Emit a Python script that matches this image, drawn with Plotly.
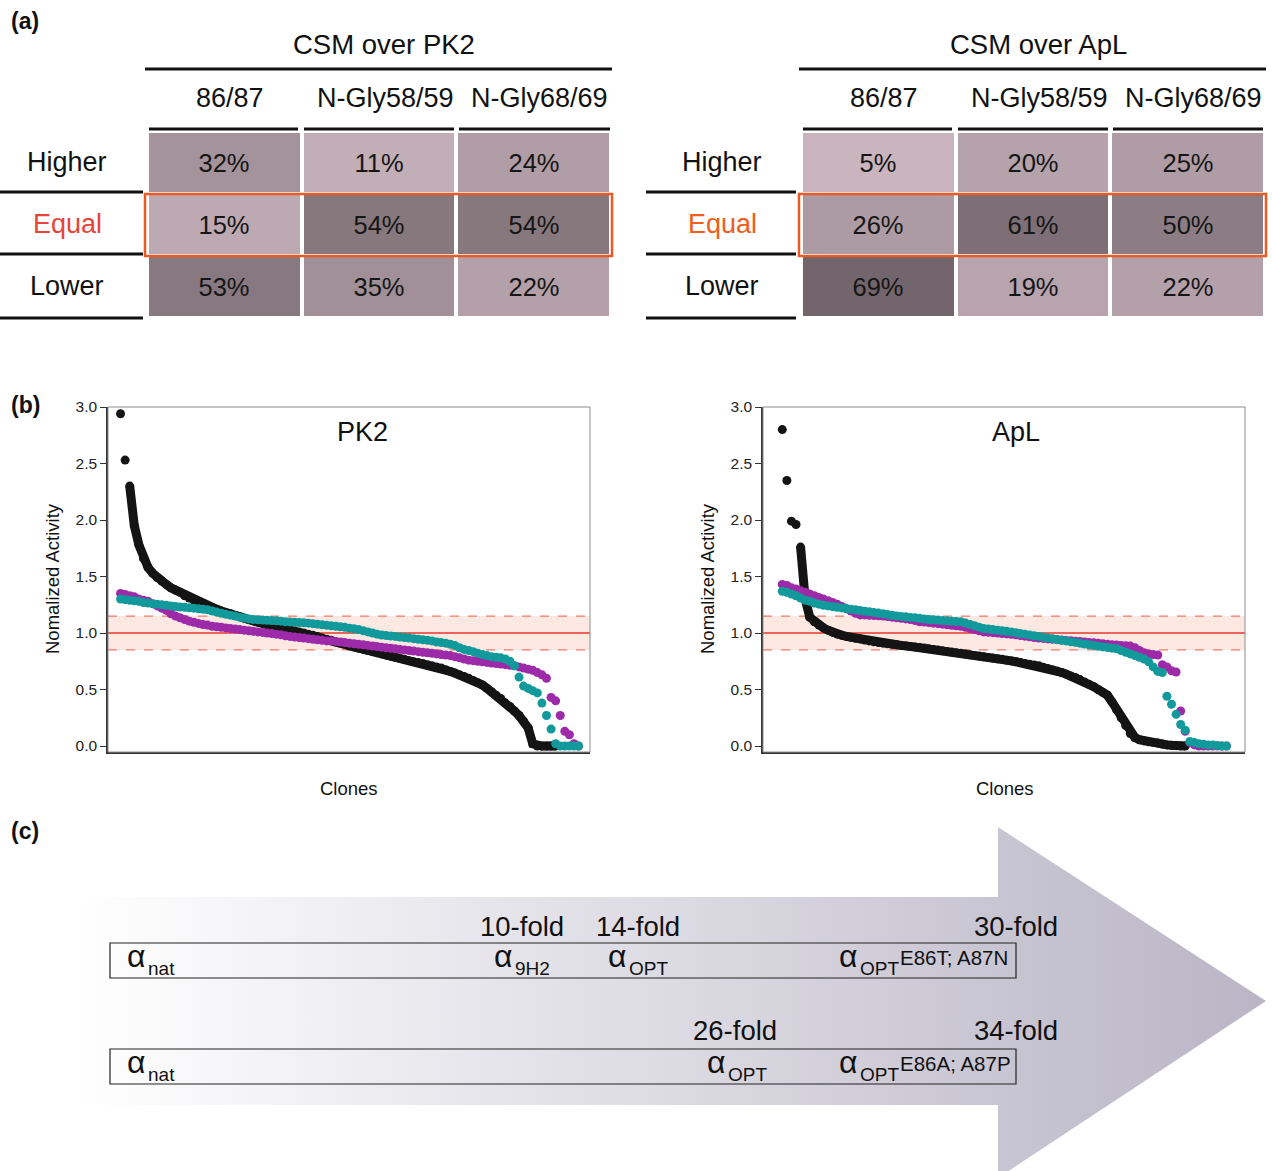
import plotly.graph_objects as go

W, H = 1272, 1171
FONT = "Liberation Sans, Arial, Helvetica, sans-serif"

# ---------------- data: panel (a)
row_labels = ["Higher", "Equal", "Lower"]
col_labels = ["86/87", "N-Gly58/59", "N-Gly68/69"]
table_titles = ["CSM over PK2", "CSM over ApL"]
pk2_pct = [[32, 11, 24], [15, 54, 54], [53, 35, 22]]
apl_pct = [[5, 20, 25], [26, 61, 50], [69, 19, 22]]

# ---------------- data: panel (b)  (sorted normalized activity per clone)
pk2_black = [2.94, 2.53, 2.30, 1.95, 1.78, 1.66, 1.58, 1.53, 1.49, 1.46,
             1.43, 1.40, 1.38, 1.36, 1.33, 1.31, 1.29, 1.275, 1.26, 1.24,
             1.225, 1.21, 1.195, 1.18, 1.17, 1.155, 1.145, 1.13, 1.12, 1.11,
             1.095, 1.085, 1.075, 1.065, 1.055, 1.045, 1.035, 1.025, 1.02, 1.01,
             1.00, 0.99, 0.98, 0.97, 0.955, 0.945, 0.935, 0.92, 0.91, 0.90,
             0.885, 0.875, 0.865, 0.855, 0.845, 0.835, 0.825, 0.815, 0.805, 0.795,
             0.785, 0.775, 0.765, 0.755, 0.745, 0.74, 0.73, 0.72, 0.71, 0.70,
             0.69, 0.675, 0.66, 0.645, 0.63, 0.615, 0.60, 0.58, 0.56, 0.54,
             0.51, 0.48, 0.45, 0.42, 0.38, 0.35, 0.31, 0.27, 0.22, 0.16,
             0.02, 0.0, 0.0, 0.0, 0.0, 0.0]
pk2_purple = [1.35, 1.34, 1.33, 1.32, 1.30, 1.29, 1.28, 1.26, 1.24, 1.22,
              1.20, 1.17, 1.15, 1.135, 1.12, 1.105, 1.095, 1.085, 1.075, 1.07,
              1.06, 1.055, 1.05, 1.045, 1.04, 1.035, 1.03, 1.025, 1.02, 1.015,
              1.01, 1.005, 1.0, 0.995, 0.99, 0.985, 0.975, 0.97, 0.965, 0.96,
              0.955, 0.95, 0.945, 0.94, 0.935, 0.93, 0.93, 0.925, 0.92, 0.915,
              0.91, 0.905, 0.90, 0.895, 0.89, 0.885, 0.88, 0.875, 0.87, 0.865,
              0.86, 0.855, 0.85, 0.845, 0.84, 0.835, 0.83, 0.825, 0.82, 0.815,
              0.81, 0.805, 0.80, 0.79, 0.78, 0.77, 0.76, 0.755, 0.75, 0.745,
              0.74, 0.735, 0.73, 0.725, 0.72, 0.715, 0.71, 0.70, 0.69, 0.68,
              0.67, 0.65, 0.63, 0.60, 0.43, 0.40, 0.27, 0.13, 0.10, 0.02,
              0.0]
pk2_teal = [1.30, 1.295, 1.29, 1.285, 1.28, 1.27, 1.265, 1.26, 1.255, 1.25,
            1.245, 1.24, 1.235, 1.23, 1.227, 1.223, 1.22, 1.215, 1.21, 1.205,
            1.195, 1.185, 1.175, 1.165, 1.158, 1.15, 1.14, 1.132, 1.125, 1.12,
            1.117, 1.115, 1.113, 1.11, 1.108, 1.105, 1.10, 1.098, 1.095, 1.093,
            1.09, 1.087, 1.083, 1.078, 1.073, 1.068, 1.064, 1.06, 1.055, 1.05,
            1.043, 1.037, 1.03, 1.02, 1.01, 1.00, 0.99, 0.982, 0.977, 0.973,
            0.97, 0.965, 0.96, 0.955, 0.95, 0.945, 0.94, 0.935, 0.93, 0.92,
            0.915, 0.91, 0.90, 0.89, 0.87, 0.855, 0.845, 0.835, 0.82, 0.81,
            0.80, 0.79, 0.785, 0.78, 0.77, 0.75, 0.71, 0.61, 0.53, 0.51,
            0.49, 0.47, 0.38, 0.27, 0.15, 0.02, 0.0, 0.0, 0.0, 0.0,
            0.0]
apl_black = [2.80, 2.35, 1.99, 1.96, 1.76, 1.30, 1.14, 1.10, 1.07, 1.045,
             1.025, 1.005, 0.99, 0.98, 0.97, 0.962, 0.953, 0.946, 0.938, 0.93,
             0.922, 0.915, 0.91, 0.905, 0.90, 0.895, 0.89, 0.886, 0.881, 0.877,
             0.872, 0.867, 0.861, 0.855, 0.849, 0.843, 0.837, 0.831, 0.826, 0.82,
             0.814, 0.808, 0.802, 0.796, 0.79, 0.784, 0.778, 0.772, 0.767, 0.76,
             0.753, 0.746, 0.738, 0.731, 0.724, 0.717, 0.71, 0.698, 0.687, 0.675,
             0.663, 0.651, 0.636, 0.62, 0.606, 0.588, 0.567, 0.546, 0.525, 0.50,
             0.475, 0.45, 0.39, 0.32, 0.25, 0.18, 0.11, 0.075, 0.055, 0.045,
             0.038, 0.032, 0.027, 0.018, 0.01, 0.006, 0.003, 0.001, 0.0]
apl_purple = [1.43, 1.42, 1.40, 1.39, 1.375, 1.36, 1.345, 1.33, 1.315, 1.30,
              1.285, 1.27, 1.255, 1.235, 1.215, 1.195, 1.175, 1.16, 1.16, 1.157,
              1.155, 1.152, 1.15, 1.145, 1.14, 1.135, 1.13, 1.125, 1.12, 1.11,
              1.10, 1.097, 1.092, 1.087, 1.083, 1.078, 1.073, 1.068, 1.064, 1.06,
              1.05, 1.04, 1.03, 1.02, 1.01, 1.007, 1.003, 1.0, 0.996, 0.992,
              0.988, 0.985, 0.978, 0.972, 0.966, 0.96, 0.955, 0.952, 0.948, 0.945,
              0.941, 0.938, 0.934, 0.931, 0.928, 0.925, 0.921, 0.917, 0.913, 0.909,
              0.905, 0.90, 0.897, 0.894, 0.89, 0.887, 0.884, 0.87, 0.845, 0.825,
              0.815, 0.81, 0.805, 0.72, 0.70, 0.665, 0.655, 0.31, 0.13, 0.03,
              0.01, 0.0, 0.0, 0.0, 0.0, 0.0, 0.0, 0.0]
apl_teal = [1.37, 1.36, 1.345, 1.33, 1.31, 1.29, 1.28, 1.265, 1.255, 1.245,
            1.24, 1.233, 1.228, 1.222, 1.216, 1.21, 1.205, 1.199, 1.193, 1.188,
            1.182, 1.176, 1.17, 1.163, 1.157, 1.151, 1.147, 1.143, 1.138, 1.134,
            1.13, 1.125, 1.12, 1.117, 1.114, 1.111, 1.108, 1.105, 1.102, 1.10,
            1.088, 1.076, 1.064, 1.052, 1.04, 1.035, 1.03, 1.025, 1.02, 1.015,
            1.01, 1.003, 0.996, 0.99, 0.983, 0.976, 0.97, 0.963, 0.956, 0.95,
            0.943, 0.936, 0.93, 0.923, 0.917, 0.91, 0.903, 0.896, 0.89, 0.883,
            0.877, 0.872, 0.866, 0.86, 0.845, 0.83, 0.815, 0.80, 0.785, 0.77,
            0.745, 0.70, 0.66, 0.65, 0.44, 0.37, 0.28, 0.19, 0.14, 0.04,
            0.03, 0.02, 0.015, 0.01, 0.01, 0.005, 0.0, 0.0]
pk2_black_outliers = 2
apl_black_outliers = 4
equal_low, equal_ref, equal_high = 0.85, 1.0, 1.15
y_ticks = [0.0, 0.5, 1.0, 1.5, 2.0, 2.5, 3.0]
panel_b_titles = ["PK2", "ApL"]

# ---------------- data: panel (c)
row1_folds = ["10-fold", "14-fold", "30-fold"]
row2_folds = ["26-fold", "34-fold"]
row1_variants = [("nat", ""), ("9H2", ""), ("OPT", ""), ("OPT", "E86T; A87N")]
row2_variants = [("nat", ""), ("OPT", ""), ("OPT", "E86A; A87P")]

# ---------------- colours
C_BLACK = "#141414"
C_PURPLE = "#9d2aa9"
C_TEAL = "#11999b"
C_RED = "#e2392c"
C_DASH = "#f07a6a"
C_BAND = "#fde9e2"
C_ORANGE = "#ea5a22"
CELL_SCALE = [[0, "#cab5be"], [1, "#72656b"]]


def px(x):
    return x / W


def py(y):
    return 1 - y / H


fig = go.Figure()
shapes = []
ann = []


def hline(x0, x1, y, w=3, color="#111"):
    shapes.append(dict(type="line", xref="paper", yref="paper", x0=px(x0), x1=px(x1),
                       y0=py(y), y1=py(y), line=dict(color=color, width=w)))


def text(x, y, s, size, color="#111", bold=False, xanchor="center", **kw):
    ann.append(dict(xref="paper", yref="paper", x=px(x), y=py(y), text=f"<b>{s}</b>" if bold else s,
                    showarrow=False, xanchor=xanchor, yanchor="middle",
                    font=dict(family=FONT, size=size, color=color), **kw))


# ================= panel (a): tables
tables = [
    dict(vals=pk2_pct, ax="3", title_x=384, hl=(145, 612), dom=(147, 611),
         subl=[(149, 298), (304, 454), (459, 610)], rowl=(0, 143), label_x=67, eq_color="#e8443a"),
    dict(vals=apl_pct, ax="4", title_x=1038, hl=(799, 1266), dom=(801, 1265),
         subl=[(803, 952), (958, 1108), (1113, 1263)], rowl=(646, 796), label_x=722, eq_color="#ef5d20"),
]
for t, ttl in zip(tables, table_titles):
    a = t["ax"]
    fig.add_trace(go.Heatmap(
        z=t["vals"], x=col_labels, y=row_labels,
        text=[[f"{v}%" for v in r] for r in t["vals"]], texttemplate="%{text}",
        textfont=dict(family=FONT, size=25.5, color="#161616"),
        colorscale=CELL_SCALE, zmin=5, zmax=69, showscale=False,
        xgap=4, ygap=3, hoverinfo="skip", xaxis="x" + a, yaxis="y" + a))
    fig.layout["xaxis" + a] = dict(domain=[px(t["dom"][0]), px(t["dom"][1])], showticklabels=False,
                                   showgrid=False, zeroline=False, ticks="", anchor="y" + a)
    fig.layout["yaxis" + a] = dict(domain=[py(318), py(132)], showticklabels=False, autorange="reversed",
                                   showgrid=False, zeroline=False, ticks="", anchor="x" + a)
    text(t["title_x"], 45, ttl, 27.5)
    hline(t["hl"][0], t["hl"][1], 69)
    for (x0, x1) in t["subl"]:
        hline(x0, x1, 129)
    for y in (192, 254, 318):
        hline(t["rowl"][0], t["rowl"][1], y)
    for c in col_labels:
        ann.append(dict(xref="x" + a, yref="paper", x=c, y=py(98), text=c, showarrow=False,
                        xanchor="center", yanchor="middle", xshift=6,
                        font=dict(family=FONT, size=27, color="#111")))
    for r in row_labels:
        ann.append(dict(xref="paper", yref="y" + a, x=px(t["label_x"]), y=r, text=r, showarrow=False,
                        xanchor="center", yanchor="middle", yshift=1,
                        font=dict(family=FONT, size=27, color=t["eq_color"] if r == "Equal" else "#111")))
    shapes.append(dict(type="rect", xref="paper", yref="paper", x0=px(t["hl"][0]), x1=px(t["hl"][1]),
                       y0=py(256), y1=py(194), line=dict(color=C_ORANGE, width=2.5)))

text(9, 21, "(a)", 23, bold=True, xanchor="left")
text(9, 405, "(b)", 23, bold=True, xanchor="left")
text(9, 831, "(c)", 23, bold=True, xanchor="left")

# ================= panel (b): scatter plots
panels = [
    dict(ax="", dom=(108, 590), rng=[-2.74, 102.5], black=pk2_black, purple=pk2_purple, teal=pk2_teal,
         nout=pk2_black_outliers, title_x=362, ytitle_x=52, clones_x=349),
    dict(ax="2", dom=(763, 1245), rng=[-4.21, 101.05], black=apl_black, purple=apl_purple, teal=apl_teal,
         nout=apl_black_outliers, title_x=1016, ytitle_x=707, clones_x=1005),
]
for p, ttl in zip(panels, panel_b_titles):
    a = p["ax"]
    xa, ya = "x" + a, "y" + a
    b = p["black"]
    xb = list(range(len(b)))
    fig.add_trace(go.Scatter(x=xb[p["nout"]:], y=b[p["nout"]:], mode="lines", xaxis=xa, yaxis=ya,
                             line=dict(color=C_BLACK, width=9), hoverinfo="skip"))
    fig.add_trace(go.Scatter(x=xb, y=b, mode="markers", xaxis=xa, yaxis=ya,
                             marker=dict(color=C_BLACK, size=9), hoverinfo="skip"))
    for vals, col in ((p["purple"], C_PURPLE), (p["teal"], C_TEAL)):
        fig.add_trace(go.Scatter(x=list(range(len(vals))), y=vals, mode="markers", xaxis=xa, yaxis=ya,
                                 marker=dict(color=col, size=9), hoverinfo="skip"))
    fig.layout["xaxis" + a] = dict(domain=[px(p["dom"][0]), px(p["dom"][1])], range=p["rng"],
                                   showline=True, linecolor="#333", linewidth=1.5, showticklabels=False,
                                   ticks="", showgrid=False, zeroline=False, anchor=ya)
    fig.layout["yaxis" + a] = dict(domain=[py(752), py(407)], range=[-0.053, 3.0], tickvals=y_ticks,
                                   tickformat=".1f", ticks="outside", ticklen=6, tickwidth=1.2,
                                   tickcolor="#333", showline=True, linecolor="#333", linewidth=1.5,
                                   showgrid=False, zeroline=False, anchor=xa,
                                   tickfont=dict(family=FONT, size=15.5, color="#222"))
    dref = (xa if a else "x") + " domain"
    shapes.append(dict(type="rect", xref=dref, yref=ya, x0=0, x1=1, y0=equal_low, y1=equal_high,
                       fillcolor=C_BAND, line=dict(width=0), layer="below"))
    for yv, dash, col, w in ((equal_ref, "solid", C_RED, 1.5), (equal_low, "dash", C_DASH, 1.3),
                             (equal_high, "dash", C_DASH, 1.3)):
        shapes.append(dict(type="line", xref=dref, yref=ya, x0=0, x1=1, y0=yv, y1=yv,
                           line=dict(color=col, width=w, dash=dash), layer="below"))
    shapes.append(dict(type="rect", xref=dref, yref=(ya if a else "y") + " domain", x0=0, x1=1, y0=0, y1=1,
                       line=dict(color="#8c8c8c", width=1)))
    text(p["title_x"], 432, ttl, 27)
    text(p["clones_x"], 788, "Clones", 18.5)
    text(p["ytitle_x"], 579, "Nomalized Activity", 18.5, textangle=-90)

# ================= panel (c): arrow with gradient
arrow_x = [75, 998, 998, 1266, 998, 998, 75, 75]
arrow_y = [897, 897, 827, 1001, 1178, 1105, 1105, 897]
fig.add_trace(go.Scatter(x=arrow_x, y=arrow_y, mode="lines", fill="toself", line=dict(width=0),
                         fillgradient=dict(type="horizontal", colorscale=[[0, "#ffffff"], [1, "#b9b5c6"]],
                                           start=75, stop=1266),
                         xaxis="x5", yaxis="y5", hoverinfo="skip"))
fig.layout["xaxis5"] = dict(domain=[0, 1], range=[0, W], visible=False, anchor="y5")
fig.layout["yaxis5"] = dict(domain=[0, py(815)], range=[H, 815], visible=False, anchor="x5")

for (y0, y1) in ((943, 978), (1049, 1084)):
    shapes.append(dict(type="rect", xref="paper", yref="paper", x0=px(110), x1=px(1016),
                       y0=py(y1), y1=py(y0), line=dict(color="#222", width=1.2)))

for s, x in zip(row1_folds, (522, 638, 1016)):
    text(x, 926, s, 27.5, height=28)
for s, x in zip(row2_folds, (735, 1016)):
    text(x, 1030, s, 27.5, height=28)


def variant(x, ycenter, sub, sup):
    text(x, ycenter - 4, "α", 32, xanchor="left", height=26)
    text(x + 21, ycenter + 8, sub, 19, xanchor="left", height=22)
    if sup:
        text(x + 61, ycenter - 3, sup, 20.5, xanchor="left", height=24)


for (sub, sup), x in zip(row1_variants, (125, 492, 606, 837)):
    variant(x, 960, sub, sup)
for (sub, sup), x in zip(row2_variants, (125, 705, 837)):
    variant(x, 1066, sub, sup)

fig.update_layout(width=W, height=H, margin=dict(l=0, r=0, t=0, b=0, autoexpand=False), autosize=False,
                  paper_bgcolor="white", plot_bgcolor="rgba(0,0,0,0)", showlegend=False,
                  hovermode=False, shapes=shapes, annotations=ann,
                  font=dict(family=FONT, color="#111"))
fig.write_html("out.html")
